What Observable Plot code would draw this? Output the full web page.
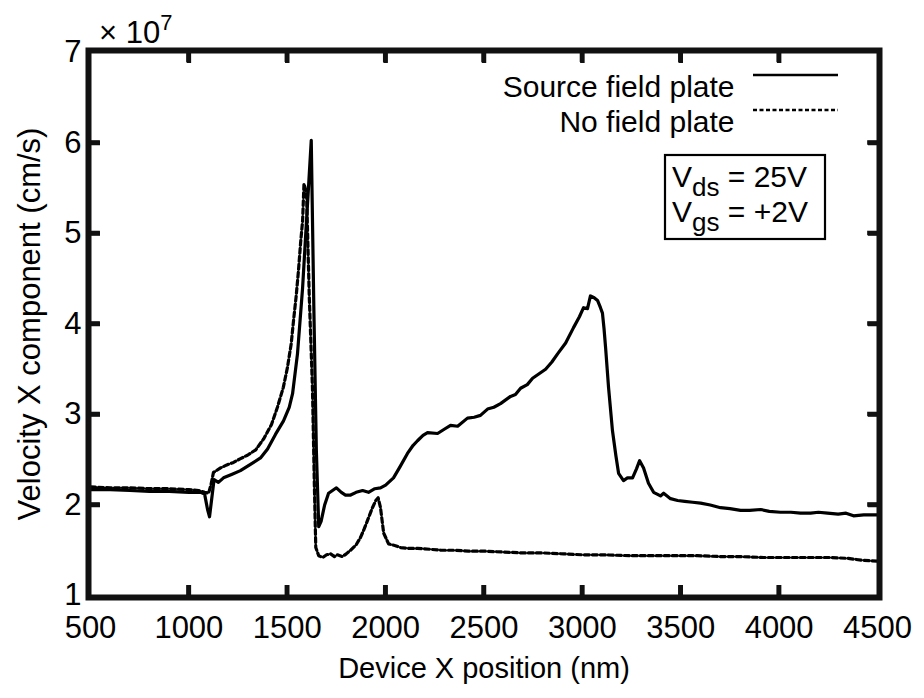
<!DOCTYPE html>
<html>
<head>
<meta charset="utf-8">
<script src="https://cdn.jsdelivr.net/npm/d3@7"></script>
<script src="https://cdn.jsdelivr.net/npm/@observablehq/plot@0.6"></script>
<style>
  html, body { margin: 0; padding: 0; background: #fff; }
  #chart { width: 924px; height: 698px; }
</style>
</head>
<body>
<div id="chart"></div>
<script>
const srcX = [500,600,700,800,900,1000,1060,1080,1095,1105,1115,1128,1150,1176,1220,1262,1313,1364,1400,1440,1481,1510,1527,1552,1578,1593,1608,1622,1635,1648,1660,1672,1690,1710,1750,1775,1796,1822,1850,1883,1913,1945,1974,2000,2040,2075,2111,2140,2162,2190,2213,2264,2300,2330,2366,2416,2450,2482,2518,2550,2584,2635,2660,2686,2720,2747,2780,2813,2845,2874,2915,2955,2985,3006,3026,3041,3060,3077,3092,3102,3110,3118,3133,3153,3170,3184,3209,3229,3255,3275,3291,3311,3336,3362,3380,3397,3413,3448,3484,3520,3560,3601,3650,3702,3750,3804,3850,3906,3950,4007,4060,4109,4160,4200,4246,4300,4340,4378,4430,4500];
const srcV = [2.17,2.17,2.16,2.15,2.15,2.14,2.14,2.12,1.95,1.87,2.05,2.28,2.25,2.30,2.34,2.38,2.45,2.52,2.62,2.78,2.93,3.08,3.23,3.67,4.40,4.96,5.51,6.03,4.20,2.60,1.76,1.82,2.00,2.13,2.19,2.14,2.11,2.11,2.14,2.16,2.14,2.18,2.19,2.22,2.30,2.43,2.57,2.66,2.71,2.77,2.80,2.79,2.84,2.88,2.87,2.96,2.97,2.99,3.06,3.08,3.12,3.20,3.22,3.29,3.33,3.40,3.45,3.50,3.58,3.67,3.79,3.96,4.08,4.18,4.17,4.31,4.29,4.26,4.18,4.12,3.95,3.74,3.30,2.82,2.55,2.35,2.27,2.30,2.30,2.40,2.49,2.41,2.24,2.14,2.12,2.10,2.13,2.07,2.05,2.04,2.03,2.02,2.00,1.97,1.96,1.94,1.94,1.95,1.93,1.92,1.92,1.91,1.91,1.92,1.91,1.90,1.91,1.88,1.89,1.89];
const noX = [500,600,700,800,900,1000,1050,1080,1100,1112,1125,1140,1161,1190,1227,1260,1298,1340,1380,1420,1450,1480,1501,1520,1532,1545,1557,1568,1578,1585,1598,1612,1628,1638,1645,1660,1680,1700,1720,1740,1755,1781,1800,1822,1850,1872,1890,1908,1933,1950,1962,1974,1990,2015,2050,2076,2120,2162,2230,2280,2350,2420,2500,2600,2700,2800,2905,3000,3100,3245,3400,3500,3585,3700,3800,3921,4050,4150,4262,4350,4420,4500];
const noV = [2.20,2.19,2.19,2.18,2.18,2.17,2.16,2.14,2.13,2.22,2.36,2.38,2.41,2.44,2.47,2.51,2.55,2.61,2.73,2.89,3.08,3.30,3.52,3.78,4.04,4.30,4.59,4.90,5.14,5.55,5.45,4.30,3.30,2.20,1.53,1.44,1.42,1.45,1.46,1.43,1.45,1.43,1.46,1.50,1.56,1.64,1.73,1.83,1.97,2.05,2.08,1.97,1.69,1.57,1.55,1.53,1.52,1.52,1.51,1.50,1.50,1.49,1.49,1.48,1.47,1.47,1.46,1.45,1.45,1.44,1.44,1.44,1.44,1.43,1.43,1.42,1.42,1.42,1.42,1.41,1.39,1.38];

const xTickLabels = [500,1000,1500,2000,2500,3000,3500,4000,4500];
const yTickLabels = [1,2,3,4,5,6,7];
const xInnerTicks = [1000,1500,2000,2500,3000,3500,4000];
const yInnerTicks = [2,3,4,5,6];
const xDomain = [500, 4500];
const yDomain = [1, 7];
const seriesNames = ["Source field plate", "No field plate"];
const xLabel = "Device X position (nm)";
const yLabel = "Velocity X component (cm/s)";

const src = srcX.map((x, i) => ({x, v: srcV[i]}));
const nofp = noX.map((x, i) => ({x, v: noV[i]}));

const W = 924, H = 698;
const mL = 90, mR = 47, mT = 52, mB = 103;
const FONT = "Liberation Sans, Arial, Helvetica, sans-serif";
const TICK = "#111";
const tk = 10;       // inward tick length, px
const blank = () => "";

const chart = Plot.plot({
  width: W, height: H,
  marginLeft: mL, marginRight: mR, marginTop: mT, marginBottom: mB,
  style: {background: "#fff", fontFamily: FONT, color: "black"},
  x: {domain: xDomain, label: null},
  y: {domain: yDomain, label: null},
  marks: [
    Plot.axisX({ticks: xTickLabels, tickSize: 0, tickPadding: 20, tickFormat: d => String(d), fontSize: 31, anchor: "bottom"}),
    Plot.axisY({ticks: yTickLabels, tickSize: 0, tickPadding: 9, tickFormat: d => String(d), fontSize: 31, anchor: "left"}),
    Plot.line(nofp, {x: "x", y: "v", stroke: "black", strokeWidth: 3.2, strokeDasharray: "5,3"}),
    Plot.line(src, {x: "x", y: "v", stroke: "black", strokeWidth: 3.2, strokeLinejoin: "round"}),
    // inward ticks: axis tick marks shifted back into the frame
    Plot.axisX({anchor: "bottom", ticks: xInnerTicks, tickSize: tk, dy: -tk, tickFormat: blank, stroke: TICK, strokeWidth: 4.5, label: null}),
    Plot.axisX({anchor: "top", ticks: xInnerTicks, tickSize: tk, dy: tk, tickFormat: blank, stroke: TICK, strokeWidth: 4.5, label: null}),
    Plot.axisY({anchor: "left", ticks: yInnerTicks, tickSize: tk, dx: tk, tickFormat: blank, stroke: TICK, strokeWidth: 4.5, label: null}),
    Plot.axisY({anchor: "right", ticks: yInnerTicks, tickSize: tk, dx: -tk, tickFormat: blank, stroke: TICK, strokeWidth: 4.5, label: null}),
    // same ticks as small filled rects (fallback)
    Plot.rect(xInnerTicks, {x1: d => d - 11, x2: d => d + 11, y1: yDomain[0], y2: yDomain[0] + 0.11, fill: TICK}),
    Plot.rect(xInnerTicks, {x1: d => d - 11, x2: d => d + 11, y1: yDomain[1] - 0.11, y2: yDomain[1], fill: TICK}),
    Plot.rect(yInnerTicks, {y1: d => d - 0.025, y2: d => d + 0.025, x1: xDomain[0], x2: xDomain[0] + 50, fill: TICK}),
    Plot.rect(yInnerTicks, {y1: d => d - 0.025, y2: d => d + 0.025, x1: xDomain[1] - 50, x2: xDomain[1], fill: TICK}),
    Plot.frame({stroke: TICK, strokeWidth: 6, inset: -2}),
    Plot.text([xLabel], {frameAnchor: "bottom", dy: 82, fontSize: 29, fill: "black"}),
    Plot.text([yLabel], {frameAnchor: "left", textAnchor: "middle", dx: -60, rotate: -90, fontSize: 31, fill: "black"}),
    Plot.text([seriesNames[0]], {frameAnchor: "top-right", dx: -143, dy: 23, textAnchor: "end", fontSize: 30, fill: "black"}),
    Plot.text([seriesNames[1]], {frameAnchor: "top-right", dx: -143, dy: 58, textAnchor: "end", fontSize: 30, fill: "black"})
  ]
});
document.getElementById("chart").appendChild(chart);

const sx = chart.scale("x"), sy = chart.scale("y");
const x1 = Math.max(...sx.range), x0 = Math.min(...sx.range);
const yt = Math.min(...sy.range);
const svg = d3.select(chart);

// legend samples
svg.append("line").attr("x1", x1 - 124).attr("x2", x1 - 39).attr("y1", yt + 23).attr("y2", yt + 23)
  .attr("stroke", "black").attr("stroke-width", 2.5);
svg.append("line").attr("x1", x1 - 124).attr("x2", x1 - 39).attr("y1", yt + 58).attr("y2", yt + 58)
  .attr("stroke", "black").attr("stroke-width", 2.5).attr("stroke-dasharray", "4,2.5");

// × 10^7
const mult = svg.append("text").attr("x", x0 + 9).attr("y", yt - 9).attr("text-anchor", "start")
  .attr("font-size", 31).attr("font-family", FONT).attr("fill", "black");
mult.append("tspan").text("\u00d7 10");
mult.append("tspan").attr("dy", -13).attr("font-size", 22).text("7");

// annotation box
const bx = x1 - 212, by = yt + 103, bw = 160, bh = 84;
svg.append("rect").attr("x", bx).attr("y", by).attr("width", bw).attr("height", bh)
  .attr("fill", "#fff").attr("stroke", "black").attr("stroke-width", 2.2);
[["V", "ds", " = 25V"], ["V", "gs", " = +2V"]].forEach((l, i) => {
  const t = svg.append("text").attr("x", bx + 7).attr("y", by + 32 + i * 35).attr("text-anchor", "start")
    .attr("font-size", 30).attr("font-family", FONT).attr("fill", "black");
  t.append("tspan").text(l[0]);
  t.append("tspan").attr("dy", 9).attr("font-size", 26).text(l[1]);
  t.append("tspan").attr("dy", -9).attr("font-size", 30).text(l[2]);
});
</script>
</body>
</html>
